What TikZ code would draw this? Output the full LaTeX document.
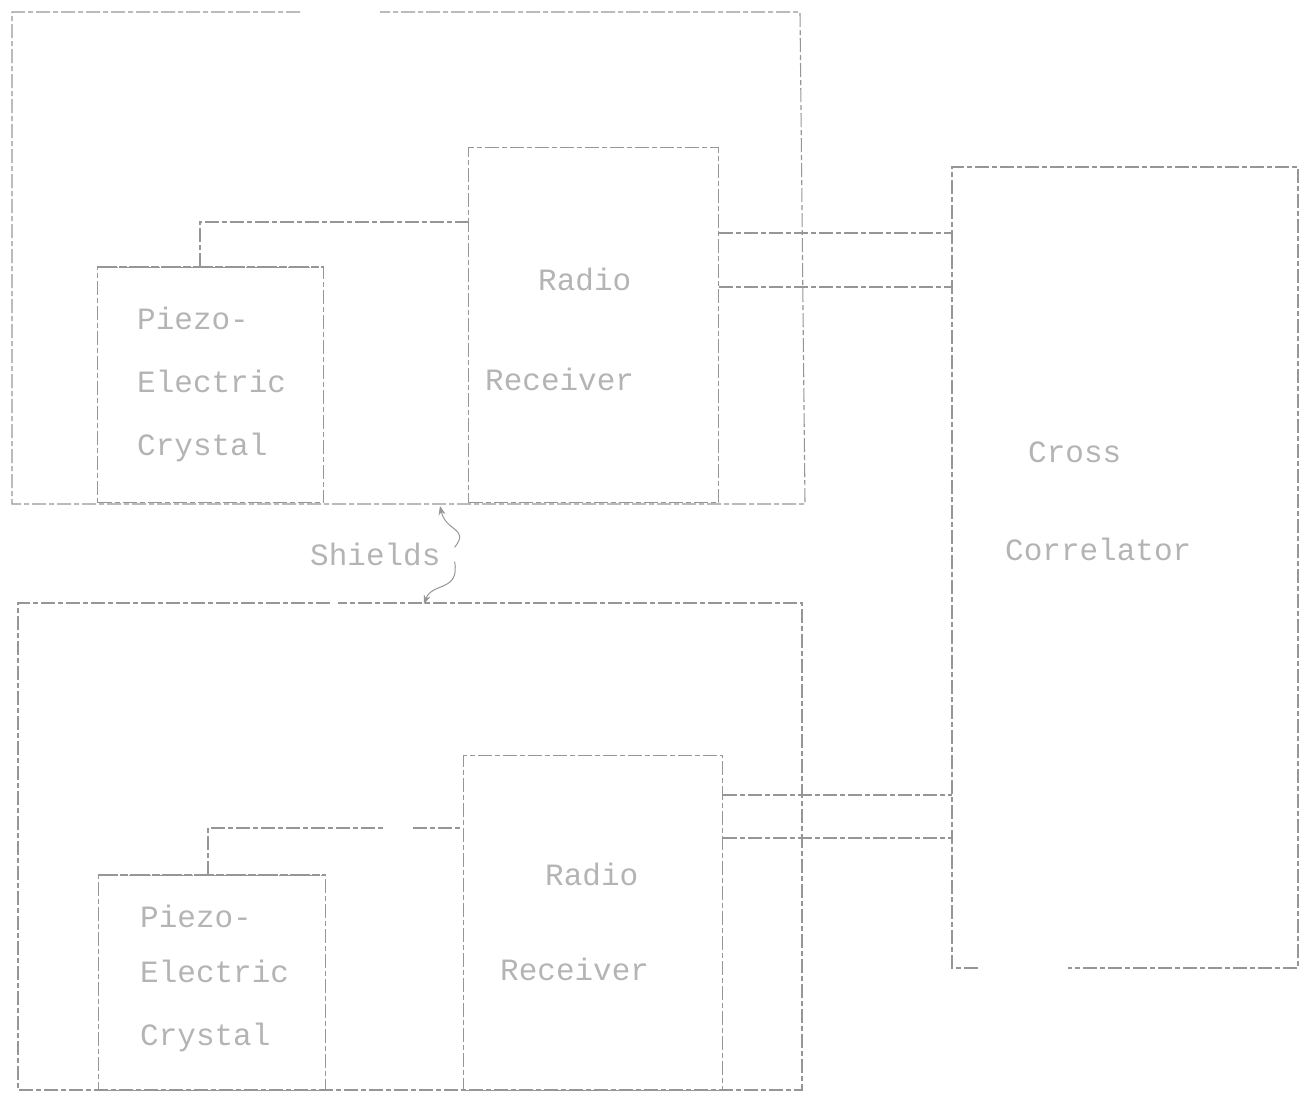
\documentclass[tikz,border=0pt]{standalone}
\usepackage{fontspec}
\setmonofont{Liberation Mono}
\usetikzlibrary{arrows.meta}
\definecolor{ink}{RGB}{150,150,150}
\definecolor{txt}{RGB}{180,180,180}
\tikzset{
  x=1pt, y=-1pt,
  wire/.style={draw=ink, line width=1.1pt, dash pattern=on 14pt off 3pt on 5pt off 3pt},
  boxnode/.style={wire, rectangle, inner sep=0pt, anchor=north west},
  crysedge/.style={draw=ink, line width=2.6pt, dash pattern=on 20pt off 2pt on 8pt off 2pt},
  lbl/.style={text=txt, font=\fontsize{31}{36}\selectfont\ttfamily, inner sep=0pt, anchor=base west},
  curly/.style={draw=ink, line width=1pt, -{Stealth[length=9pt,width=7pt]}}
}
\begin{document}
\begin{tikzpicture}
\useasboundingbox (0,0) rectangle (1303,1093);

% ---------- top shield ----------
\draw[wire] (300,12) -- (12,12) -- (12,504) -- (805,504) -- (800,12) -- (380,12);

% ---------- bottom shield ----------
\draw[wire] (330,603) -- (18,603) -- (18,1090) -- (802,1090) -- (802,603) -- (338,603);

% ---------- correlator ----------
\draw[wire] (978,968) -- (952,968) -- (952,167) -- (1298,167) -- (1298,968) -- (1068,968);
\coordinate (ccw) at (952,560);

% ---------- top channel ----------
\node[boxnode, minimum width=226pt, minimum height=235pt] (c1) at (97,267) {};
\draw[crysedge] (c1.north west) -- (c1.north east);
\node[boxnode, minimum width=250pt, minimum height=355pt] (r1) at (468,147) {};
\coordinate (k1) at (200,222);
\draw[wire] (k1 |- c1.north) |- (k1 -| r1.west);
\coordinate (o1a) at (0,233);
\coordinate (o1b) at (0,287);
\draw[wire] (r1.east |- o1a) -- (ccw |- o1a);
\draw[wire] (r1.east |- o1b) -- (ccw |- o1b);

\node[lbl] (t1) at (137,329) {Piezo-};
\node[lbl] (t2) at (137,392) {Electric};
\node[lbl] (t3) at (137,455) {Crystal};
\node[lbl] (t4) at (538,290) {Radio};
\node[lbl] (t5) at (485,390) {Receiver};

% ---------- bottom channel ----------
\node[boxnode, minimum width=227pt, minimum height=215pt] (c2) at (98,875) {};
\draw[crysedge] (c2.north west) -- (c2.north east);
\node[boxnode, minimum width=259pt, minimum height=335pt] (r2) at (463,755) {};
\coordinate (k2) at (208,828);
\coordinate (g1) at (383,828);
\coordinate (g2) at (413,828);
\draw[wire] (k2 |- c2.north) |- (g1);
\draw[wire] (g2) -- (g2 -| r2.west);
\coordinate (o2a) at (0,795);
\coordinate (o2b) at (0,838);
\draw[wire] (r2.east |- o2a) -- (ccw |- o2a);
\draw[wire] (r2.east |- o2b) -- (ccw |- o2b);

\node[lbl] (b1) at (140,927) {Piezo-};
\node[lbl] (b2) at (140,982) {Electric};
\node[lbl] (b3) at (140,1045) {Crystal};
\node[lbl] (b4) at (545,885) {Radio};
\node[lbl] (b5) at (500,980) {Receiver};

% ---------- correlator text ----------
\node[lbl] (x1) at (1028,462) {Cross};
\node[lbl] (x2) at (1005,560) {Correlator};

% ---------- shields label ----------
\node[lbl] (sh) at (310,565) {Shields};
\coordinate (s1) at (440,506);
\coordinate (s2) at (424,604);
\draw[curly] (sh.north east) ++(14,5) .. controls (470,528) and (446,532) .. (s1);
\draw[curly] (sh.south east) ++(14,-4) .. controls (460,592) and (432,582) .. (s2);
\end{tikzpicture}
\end{document}
